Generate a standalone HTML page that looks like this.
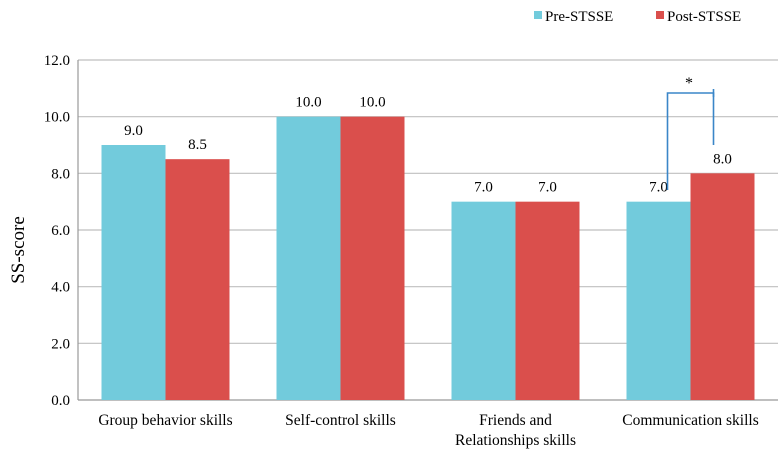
<!DOCTYPE html>
<html><head><meta charset="utf-8"><style>
html,body{margin:0;padding:0;background:#fff;}
svg{display:block;font-family:"Liberation Serif",serif;}
</style></head><body>
<svg id="chart" width="784" height="454" viewBox="0 0 784 454" xmlns="http://www.w3.org/2000/svg">
<g id="grid"></g>
<g id="yticks"></g>
<g id="bars"></g>
<g id="labels"></g>
<g id="xlabels"></g>
<text transform="translate(24,250) rotate(-90)" text-anchor="middle" font-size="19">SS-score</text>
<g>
<g><rect x="534" y="11" width="8" height="8" fill="#72CBDC"/><text x="545" y="21" font-size="15">Pre-STSSE</text></g>
<g><rect x="656" y="11" width="8" height="8" fill="#DA4F4C"/><text x="667" y="21" font-size="15">Post-STSSE</text></g>
</g>
<g>
<polyline points="667.5,190 667.5,93 713.5,93 713.5,145" fill="none" stroke="#3a86c8" stroke-width="1.6"/>
<line x1="713.5" y1="89" x2="713.5" y2="97" stroke="#3a86c8" stroke-width="1.6"/>
<text x="689" y="88" text-anchor="middle" font-size="16">*</text>
</g>
</svg>
<script>
const categories=[["Group behavior skills"],["Self-control skills"],["Friends and","Relationships skills"],["Communication skills"]];
const preValues=[9.0,10.0,7.0,7.0];
const postValues=[8.5,10.0,7.0,8.0];
const yTicks=[0,2,4,6,8,10,12];
const NS="http://www.w3.org/2000/svg";
const L=78,R=778,T=60,B=400,yMax=12;
const y=v=>B-(v/yMax)*(B-T);
const gw=(R-L)/categories.length, bw=64;
const x=i=>L+gw*(i+0.5);
function mk(tag,attrs,parent){const e=document.createElementNS(NS,tag);for(const k in attrs)e.setAttribute(k,attrs[k]);document.getElementById(parent).appendChild(e);return e;}
yTicks.forEach(t=>{
  const l=mk('line',{x1:L,x2:R,y1:y(t),y2:y(t),stroke:t===0?'#999':'#bfbfbf','stroke-width':1.2},'grid');
  
  
  const tx=mk('text',{x:L-8,y:y(t)+5,'text-anchor':'end','font-size':15},'yticks');
  tx.textContent=t.toFixed(1);
  
  
});
mk('line',{x1:L,x2:L,y1:T,y2:B,stroke:'#999','stroke-width':1.2},'grid');
categories.forEach((c,i)=>{
  [[preValues[i],'#72CBDC',-bw],[postValues[i],'#DA4F4C',0]].forEach(([v,col,off],j)=>{
    const r=mk('rect',{x:x(i)+off,y:y(v),width:bw,height:B-y(v),fill:col},'bars');
    
    
    const t=mk('text',{x:x(i)+off+bw/2,y:y(v)-10,'text-anchor':'middle','font-size':15},'labels');
    t.textContent=v.toFixed(1);
    
    
  });
  c.forEach((line,k)=>{
    const t=mk('text',{x:x(i),y:425+k*20,'text-anchor':'middle','font-size':15.5},'xlabels');
    t.textContent=line;
    
    
  });
});
</script>
</body></html>
